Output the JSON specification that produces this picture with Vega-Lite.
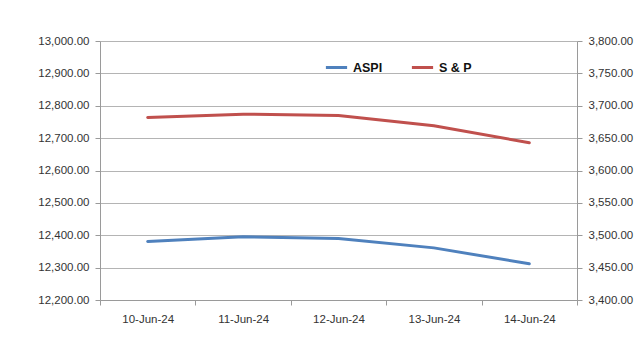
{
  "$schema": "https://vega.github.io/schema/vega-lite/v6.json",
  "autosize": {"type": "none"},
  "width": 477,
  "height": 259,
  "padding": {"left": 100, "top": 41, "right": 66, "bottom": 54},
  "background": "white",
  "config": {
    "view": {"stroke": null},
    "font": "Liberation Sans",
    "axis": {
      "labelFont": "Liberation Sans",
      "labelFontSize": 11.5,
      "labelColor": "#333333",
      "domainColor": "#9a9a9a",
      "tickColor": "#9a9a9a",
      "gridColor": "#b4b4b4",
      "labelOverlap": false,
      "title": null
    }
  },
  "data": {
    "values": [
      {"date": "10-Jun-24", "ASPI": 12381, "SP": 3682},
      {"date": "11-Jun-24", "ASPI": 12395, "SP": 3687},
      {"date": "12-Jun-24", "ASPI": 12390, "SP": 3685},
      {"date": "13-Jun-24", "ASPI": 12361, "SP": 3669},
      {"date": "14-Jun-24", "ASPI": 12312, "SP": 3643}
    ]
  },
  "encoding": {
    "x": {
      "field": "date",
      "type": "ordinal",
      "sort": null,
      "scale": {"type": "band", "paddingInner": 0, "paddingOuter": 0},
      "axis": {"labelAngle": 0, "tickBand": "extent", "tickSize": 5, "labelPadding": 8, "grid": false}
    }
  },
  "layer": [
    {
      "mark": {"type": "line", "strokeWidth": 3, "strokeCap": "round"},
      "encoding": {
        "y": {
          "field": "ASPI",
          "type": "quantitative",
          "scale": {"domain": [12200, 13000], "zero": false, "nice": false},
          "axis": {"orient": "left", "values": [12200, 12300, 12400, 12500, 12600, 12700, 12800, 12900, 13000], "format": ",.2f", "grid": true, "tickSize": 5, "labelPadding": 6}
        },
        "color": {
          "datum": "ASPI",
          "scale": {"domain": ["ASPI", "S & P"], "range": ["#4f81bd", "#c0504d"]},
          "legend": {
            "title": null,
            "orient": "none",
            "legendX": 224,
            "legendY": 14,
            "direction": "horizontal",
            "symbolType": "stroke",
            "symbolSize": 450,
            "symbolStrokeWidth": 3,
            "labelFontWeight": "bold",
            "labelFontSize": 12.5,
            "labelColor": "#111111",
            "columnPadding": 22,
            "labelOffset": 4
          }
        }
      }
    },
    {
      "mark": {"type": "line", "strokeWidth": 3, "strokeCap": "round"},
      "encoding": {
        "y": {
          "field": "SP",
          "type": "quantitative",
          "scale": {"domain": [3400, 3800], "zero": false, "nice": false},
          "axis": {"orient": "right", "values": [3400, 3450, 3500, 3550, 3600, 3650, 3700, 3750, 3800], "format": ",.2f", "grid": false, "tickSize": 5, "labelPadding": 6}
        },
        "color": {"datum": "S & P"}
      }
    }
  ],
  "resolve": {"scale": {"y": "independent"}}
}
